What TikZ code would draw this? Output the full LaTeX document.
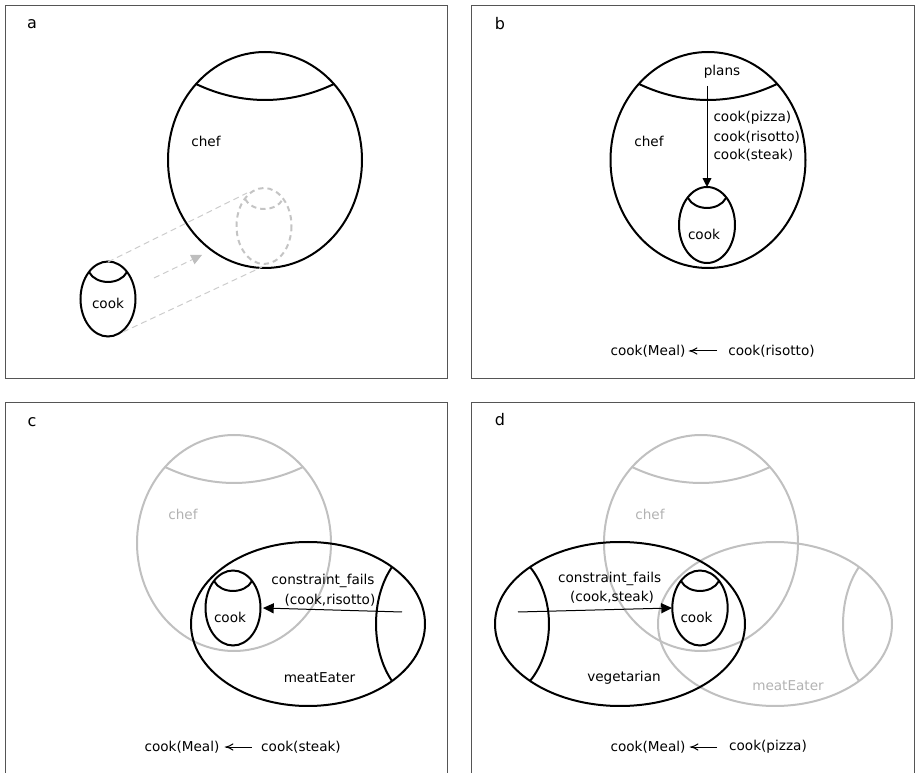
\documentclass[tikz,border=0pt]{standalone}
\usepackage{fontspec}
\setmainfont{DejaVu Sans}

\tikzset{every picture/.style={line width=0.75pt}}
\tikzset{
setline/.style={line width=1.5pt},
fadeline/.style={color={rgb, 255:red, 192; green, 192; blue, 192}, line width=1.5pt},
fadetext/.style={color={rgb, 255:red, 178; green, 178; blue, 178}},
frameline/.style={color={rgb, 255:red, 85; green, 85; blue, 85}, line width=0.75pt},
ghostline/.style={color={rgb, 255:red, 204; green, 204; blue, 204}, dash pattern={on 4.5pt off 3pt}},
ghostset/.style={color={rgb, 255:red, 196; green, 196; blue, 196}, line width=1.5pt, dash pattern={on 4pt off 3pt}},
txt/.style={inner sep=0.75pt, font=\fontsize{10.2}{12}\selectfont},
tag/.style={inner sep=0.75pt, font=\fontsize{12}{14}\selectfont}
}

\begin{document}
\begin{tikzpicture}[x=0.75pt,y=0.75pt,yscale=-1,xscale=1]
\path [use as bounding box] (0,0) rectangle (915,773);

%Frames
\draw [frameline] (5,5.5) rectangle (447.7,378.3) ;
\draw [frameline] (471.7,5.5) rectangle (914.3,378.3) ;
\draw [frameline] (5,773) -- (5,402.3) -- (447.7,402.3) -- (447.7,773) ;
\draw [frameline] (471.7,773) -- (471.7,402.3) -- (914.3,402.3) -- (914.3,773) ;

%%%%% panel a
%Shape: Ellipse chef
\draw [setline] (265,160) ellipse [x radius=97, y radius=108] ;
%Curve chef top
\draw [setline] (196,84) .. controls (241,105.3) and (289,105.3) .. (334,84) ;
%Shape: Ellipse cook
\draw [setline] (108,299) ellipse [x radius=27.5, y radius=37.5] ;
\draw [setline] (89,272) .. controls (96,285.3) and (120,285.3) .. (127,272) ;
%Shape: Ellipse cook inside chef (ghost)
\draw [ghostset] (264,226) ellipse [x radius=27.5, y radius=38] ;
\draw [ghostset] (245,199) .. controls (252,212.3) and (276,212.3) .. (283,199) ;
%Straight Lines (dashed)
\coordinate (acooktop) at (108,262) ;
\coordinate (acookfoot) at (123,332) ;
\coordinate (aghosttop) at (247,193) ;
\coordinate (aghostfoot) at (262,267) ;
\coordinate (amovetail) at (154,278) ;
\coordinate (amovehead) at (202,255) ;
\draw [ghostline] (acooktop) -- (aghosttop) ;
\draw [ghostline] (acookfoot) -- (aghostfoot) ;
\draw [ghostline, shorten >=3pt] (amovetail) -- (amovehead) ;
\draw [shift={(amovehead)}, rotate = 154.4] [fill={rgb, 255:red, 190; green, 190; blue, 190 }  ][line width=0.08]  [draw opacity=0] (10.72,-5.15) -- (0,0) -- (10.72,5.15) -- cycle    ;

% Text Node
\draw (32,24) node (alabel) [tag] {a};
% Text Node
\draw (206,141) node (achef) [txt] {chef};
% Text Node
\draw (108,303) node (acook) [txt] {cook};

%%%%% panel b
%Shape: Ellipse chef
\draw [setline] (708,160) ellipse [x radius=97.5, y radius=108] ;
\draw [setline] (639,84) .. controls (684,105.3) and (732,105.3) .. (777,84) ;
%Shape: Ellipse cook
\draw [setline] (707,225) ellipse [x radius=28, y radius=38] ;
\draw [setline] (688,198) .. controls (695,211.3) and (719,211.3) .. (726,198) ;
%Straight Lines plans to cook
\coordinate (bplanfoot) at (707,86) ;
\coordinate (bcooktop) at (707,187) ;
\draw [shorten >=3pt] (bplanfoot) -- (bcooktop) ;
\draw [shift={(bcooktop)}, rotate = 270] [fill={rgb, 255:red, 0; green, 0; blue, 0 }  ][line width=0.08]  [draw opacity=0] (8.93,-4.5) -- (0,0) -- (8.93,4.5) -- cycle    ;
%Straight Lines formula
\coordinate (bformtail) at (717,351) ;
\coordinate (bformtip) at (690,351) ;
\draw (bformtail) -- (bformtip) ;
\draw [shift={(bformtip)}, rotate = 0] [line width=0.75]    (7.2,-3.2) .. controls (4.6,-1.4) and (2.2,-0.3) .. (0,0) .. controls (2.2,0.3) and (4.6,1.4) .. (7.2,3.2)   ;

% Text Node
\draw (500,24) node (blabel) [tag] {b};
% Text Node
\draw (722,72) node (bplans) [txt] {plans};
% Text Node
\draw (649,141) node (bchef) [txt] {chef};
% Text Node
\draw (712,118) node (bpizza) [txt, anchor=west] {cook(pizza)};
% Text Node
\draw (712,137) node (brisotto) [txt, anchor=west] {cook(risotto)};
% Text Node
\draw (712,155) node (bsteak) [txt, anchor=west] {cook(steak)};
% Text Node
\draw (704,234) node (bcook) [txt] {cook};
% Text Node
\draw (648,351) node (bmeal) [txt] {cook(Meal)};
% Text Node
\draw (771.5,351) node (bgoal) [txt] {cook(risotto)};

%%%%% panel c
%Shape: Ellipse chef (faded)
\draw [fadeline] (234,543) ellipse [x radius=97, y radius=108] ;
\draw [fadeline] (165,467) .. controls (210,488.3) and (258,488.3) .. (303,467) ;
%Shape: Ellipse meatEater
\draw [setline] (308,624) ellipse [x radius=117, y radius=82] ;
\draw [setline] (392,567) .. controls (370.7,598) and (370.7,650) .. (392,681) ;
%Shape: Ellipse cook
\draw [setline] (233,608) ellipse [x radius=27.5, y radius=37.5] ;
\draw [setline] (214,581) .. controls (221,594.3) and (245,594.3) .. (252,581) ;
%Straight Lines meatEater to cook
\coordinate (cfailtail) at (402,612) ;
\coordinate (ccookside) at (263,608) ;
\draw [shorten >=3pt] (cfailtail) -- (ccookside) ;
\draw [shift={(ccookside)}, rotate = 1.65] [fill={rgb, 255:red, 0; green, 0; blue, 0 }  ][line width=0.08]  [draw opacity=0] (10.72,-5.15) -- (0,0) -- (10.72,5.15) -- cycle    ;
%Straight Lines formula
\coordinate (cformtail) at (251.7,747) ;
\coordinate (cformtip) at (226,747) ;
\draw (cformtail) -- (cformtip) ;
\draw [shift={(cformtip)}, rotate = 0] [line width=0.75]    (7.2,-3.2) .. controls (4.6,-1.4) and (2.2,-0.3) .. (0,0) .. controls (2.2,0.3) and (4.6,1.4) .. (7.2,3.2)   ;

% Text Node
\draw (32,422) node (clabel) [tag] {c};
% Text Node
\draw (183,514) node (cchef) [txt, fadetext] {chef};
% Text Node
\draw (323,581) node (cfails) [txt] {constraint\_fails};
% Text Node
\draw (330,600) node (cpair) [txt] {(cook,risotto)};
% Text Node
\draw (319.5,678) node (cmeat) [txt] {meatEater};
% Text Node
\draw (230,617) node (ccook) [txt] {cook};
% Text Node
\draw (182,747) node (cmeal) [txt] {cook(Meal)};
% Text Node
\draw (301,747) node (cgoal) [txt] {cook(steak)};

%%%%% panel d
%Shape: Ellipse chef (faded)
\draw [fadeline] (701,543) ellipse [x radius=97, y radius=108] ;
\draw [fadeline] (632,467) .. controls (677,488.3) and (725,488.3) .. (770,467) ;
%Shape: Ellipse meatEater (faded)
\draw [fadeline] (775,624) ellipse [x radius=117, y radius=82] ;
\draw [fadeline] (859,567) .. controls (837.7,598) and (837.7,650) .. (859,681) ;
%Shape: Ellipse vegetarian
\draw [setline] (620,624) ellipse [x radius=125, y radius=82] ;
\draw [setline] (530,567) .. controls (555.3,598) and (555.3,650) .. (530,681) ;
%Shape: Ellipse cook
\draw [setline] (700,608) ellipse [x radius=27.7, y radius=37.5] ;
\draw [setline] (681,581) .. controls (688,594.3) and (712,594.3) .. (719,581) ;
%Straight Lines vegetarian to cook
\coordinate (dfailtail) at (518,612) ;
\coordinate (dcookside) at (672,608) ;
\draw [shorten >=3pt] (dfailtail) -- (dcookside) ;
\draw [shift={(dcookside)}, rotate = 178.5] [fill={rgb, 255:red, 0; green, 0; blue, 0 }  ][line width=0.08]  [draw opacity=0] (10.72,-5.15) -- (0,0) -- (10.72,5.15) -- cycle    ;
%Straight Lines formula
\coordinate (dformtail) at (717,747) ;
\coordinate (dformtip) at (691,747) ;
\draw (dformtail) -- (dformtip) ;
\draw [shift={(dformtip)}, rotate = 0] [line width=0.75]    (7.2,-3.2) .. controls (4.6,-1.4) and (2.2,-0.3) .. (0,0) .. controls (2.2,0.3) and (4.6,1.4) .. (7.2,3.2)   ;

% Text Node
\draw (500,420) node (dlabel) [tag] {d};
% Text Node
\draw (650,514) node (dchef) [txt, fadetext] {chef};
% Text Node
\draw (788,686) node (dmeat) [txt, fadetext] {meatEater};
% Text Node
\draw (609.7,579) node (dfails) [txt] {constraint\_fails};
% Text Node
\draw (612,597.7) node (dpair) [txt] {(cook,steak)};
% Text Node
\draw (624,678) node (dveg) [txt] {vegetarian};
% Text Node
\draw (696.5,617) node (dcook) [txt] {cook};
% Text Node
\draw (648,747) node (dmeal) [txt] {cook(Meal)};
% Text Node
\draw (768,747) node (dgoal) [txt] {cook(pizza)};

\end{tikzpicture}
\end{document}
